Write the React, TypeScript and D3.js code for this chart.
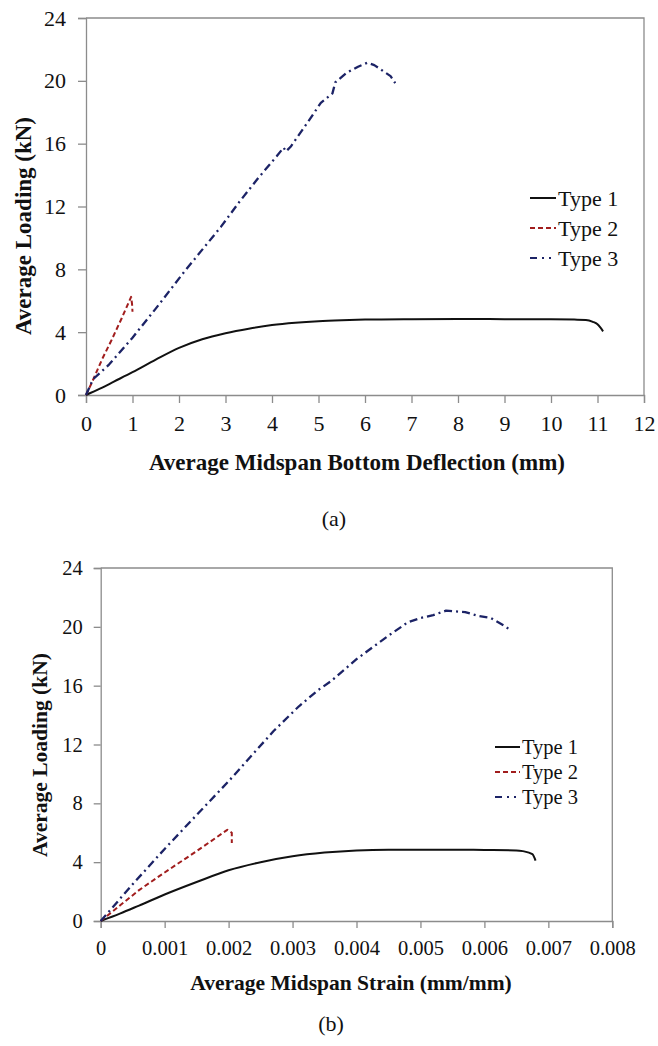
import React, {useEffect, useRef} from "react";
import * as d3 from "d3";

// tick values
const loadTicks = [0, 4, 8, 12, 16, 20, 24];
const deflTicks = [0, 1, 2, 3, 4, 5, 6, 7, 8, 9, 10, 11, 12];
const strainTicks = [0, 0.001, 0.002, 0.003, 0.004, 0.005, 0.006, 0.007, 0.008];
const seriesNames = ["Type 1", "Type 2", "Type 3"];

// (a) load vs deflection, [mm, kN]
const deflType1 = [[0, 0], [0.3, 0.4], [0.6, 0.85], [1, 1.45], [1.5, 2.25], [2, 3.0], [2.5, 3.55], [3, 3.93], [3.5, 4.22], [4, 4.45], [4.5, 4.6], [5, 4.7], [5.5, 4.76], [6, 4.8], [7, 4.83], [8, 4.84], [9, 4.83], [10, 4.82], [10.5, 4.8], [10.75, 4.78], [10.9, 4.66], [11.0, 4.5], [11.06, 4.3], [11.12, 4.05]];
const deflType2 = [[0, 0], [0.12, 0.75], [0.35, 2.3], [0.55, 3.5], [0.77, 4.9], [0.97, 6.25], [0.99, 5.8], [1.0, 5.3]];
const deflType3 = [[0, 0], [0.15, 1.0], [0.5, 1.95], [1, 3.65], [1.5, 5.5], [2.1, 7.8], [2.9, 10.7], [3.3, 12.3], [3.7, 13.8], [4.1, 15.2], [4.25, 15.75], [4.3, 15.5], [4.4, 15.8], [4.8, 17.5], [5.05, 18.6], [5.3, 19.2], [5.36, 19.9], [5.6, 20.5], [5.85, 20.9], [6.05, 21.15], [6.2, 21.0], [6.4, 20.6], [6.55, 20.3], [6.65, 19.85]];

// (b) load vs strain, [mm/mm, kN]
const strainType1 = [[0, 0], [0.0003, 0.5], [0.0006, 1.05], [0.001, 1.8], [0.0015, 2.65], [0.002, 3.45], [0.0025, 4.0], [0.003, 4.4], [0.0035, 4.65], [0.004, 4.8], [0.0045, 4.85], [0.005, 4.85], [0.0055, 4.85], [0.006, 4.83], [0.0065, 4.8], [0.0066, 4.75], [0.00675, 4.55], [0.0068, 4.1]];
const strainType2 = [[0, 0], [0.0003, 1.05], [0.0006, 2.1], [0.001, 3.3], [0.0015, 4.75], [0.00198, 6.2], [0.00205, 6.0], [0.00205, 5.3]];
const strainType3 = [[0, 0], [0.00015, 0.75], [0.0005, 2.5], [0.001, 4.9], [0.0014, 6.75], [0.002, 9.5], [0.0027, 12.9], [0.0031, 14.6], [0.0034, 15.7], [0.0036, 16.3], [0.004, 17.8], [0.0045, 19.4], [0.0048, 20.3], [0.005, 20.6], [0.0052, 20.8], [0.0054, 21.1], [0.0057, 21.0], [0.0059, 20.75], [0.0061, 20.6], [0.0063, 20.1], [0.0064, 19.8]];

const font = "\"Liberation Serif\"";
const axisGray = "#8c8c8c";
const colors = ["#111111", "#a11d1d", "#1c2366"];
const dashes = [null, "5,3", "8,4,2,4"];
const legendDashes = [null, "5,3", "7,5,2,5,2,6"];

function drawPanel(svg, p) {
    const g = svg.append("g");
    const x = d3.scaleLinear().domain([0, d3.max(p.xTicks)]).range([p.left, p.right]);
    const y = d3.scaleLinear().domain([0, 24]).range([p.bottom, p.top]);

    // frame (top + right)
    g.append("path")
        .attr("d", `M${p.left},${p.top}H${p.right}V${p.bottom}`)
        .attr("fill", "none")
        .attr("stroke", axisGray)
        .attr("stroke-width", 1.3);

    const xAxis = g.append("g")
        .attr("transform", `translate(0,${p.bottom})`)
        .call(d3.axisBottom(x).tickValues(p.xTicks).tickSize(p.tick).tickPadding(12).tickFormat(p.fmt));
    const yAxis = g.append("g")
        .attr("transform", `translate(${p.left},0)`)
        .call(d3.axisLeft(y).tickValues(loadTicks).tickSize(p.tick).tickPadding(p.yPad));
    [xAxis, yAxis].forEach(a => {
        a.attr("font-family", null).attr("font-size", null);
        a.selectAll("path, line").attr("stroke", axisGray).attr("stroke-width", 1.3);
        a.selectAll("text").attr("fill", "#111").style("font-family", font).style("font-size", p.tickFont + "px");
    });

    // curves: type 1 is a smooth curve, the others follow the raw readings
    p.series.forEach((s, i) => {
        const line = d3.line()
            .x(d => x(d[0]))
            .y(d => y(d[1]))
            .curve(i === 0 ? d3.curveMonotoneX : d3.curveLinear);
        g.append("path")
            .attr("d", line(s))
            .attr("fill", "none")
            .attr("stroke", colors[i])
            .attr("stroke-width", i === 2 ? 2.3 : 2)
            .attr("stroke-linejoin", "round")
            .attr("stroke-dasharray", dashes[i]);
    });

    // legend
    seriesNames.forEach((name, i) => {
        const ly = p.legend.y + i * p.legend.step;
        g.append("line")
            .attr("x1", p.legend.x).attr("x2", p.legend.x + p.legend.len)
            .attr("y1", ly).attr("y2", ly)
            .attr("stroke", colors[i])
            .attr("stroke-width", 2)
            .attr("stroke-dasharray", legendDashes[i]);
        g.append("text")
            .attr("x", p.legend.x + p.legend.len + 2)
            .attr("y", ly)
            .attr("dominant-baseline", "central")
            .style("font-family", font)
            .style("font-size", p.tickFont + "px")
            .attr("fill", "#111")
            .text(name);
    });

    // titles
    g.append("text")
        .attr("x", p.xTitle.x).attr("y", p.xTitle.y)
        .attr("text-anchor", "middle").attr("dominant-baseline", "central")
        .style("font-family", font).style("font-weight", "bold").style("font-size", p.titleFont + "px")
        .attr("fill", "#111")
        .text(p.xTitle.text);
    g.append("text")
        .attr("transform", `translate(${p.yTitle.x},${p.yTitle.y}) rotate(-90)`)
        .attr("text-anchor", "middle").attr("dominant-baseline", "central")
        .style("font-family", font).style("font-weight", "bold").style("font-size", p.titleFont + "px")
        .attr("fill", "#111")
        .text("Average Loading (kN)");
    g.append("text")
        .attr("x", p.caption.x).attr("y", p.caption.y)
        .attr("text-anchor", "middle").attr("dominant-baseline", "central")
        .style("font-family", font).style("font-size", "22px")
        .attr("fill", "#111")
        .text(p.caption.text);
}

export default function App() {
    const svgRef = useRef(null);
    const width = 658;
    const height = 1046;

    useEffect(() => {
        const svg = d3.select(svgRef.current);
        svg.selectAll("*").remove();

        drawPanel(svg, {
            left: 86, right: 644, top: 18, bottom: 395, tick: 8, yPad: 12,
            xTicks: deflTicks, fmt: d => String(d),
            series: [deflType1, deflType2, deflType3],
            tickFont: 22, titleFont: 23,
            xTitle: {x: 357, y: 462, text: "Average Midspan Bottom Deflection (mm)"},
            yTitle: {x: 23, y: 226},
            legend: {x: 530, y: 198, step: 30, len: 26},
            caption: {x: 334, y: 518, text: "(a)"},
        });

        drawPanel(svg, {
            left: 100.7, right: 612.3, top: 568, bottom: 921, tick: 7, yPad: 11,
            xTicks: strainTicks, fmt: d => d === 0 ? "0" : d3.format(".3f")(d),
            series: [strainType1, strainType2, strainType3],
            tickFont: 20.5, titleFont: 21.5,
            xTitle: {x: 351, y: 983, text: "Average Midspan Strain (mm/mm)"},
            yTitle: {x: 40, y: 755},
            legend: {x: 495, y: 747, step: 25, len: 25},
            caption: {x: 331, y: 1023, text: "(b)"},
        });
    }, []);

    return <svg
        ref={svgRef}
        width={width}
        height={height}
        style={{position: "absolute", left: 0, top: 0, background: "#fff"}}
    />;
}
